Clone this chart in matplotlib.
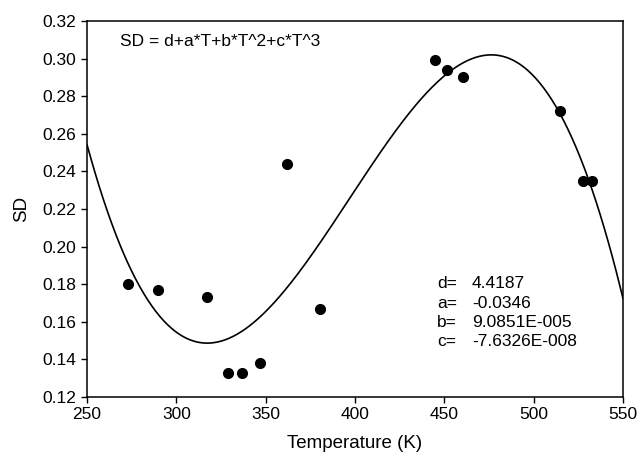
import numpy as np
import matplotlib
matplotlib.use('Agg')
import matplotlib.pyplot as plt

plt.rcParams['font.family'] = ['Liberation Sans', 'DejaVu Sans']

temp = [273, 290, 317, 329, 336.5, 347, 362, 380.5, 445, 451.5, 460.5, 515, 527.5, 532.5]
sd = [0.180, 0.177, 0.173, 0.133, 0.133, 0.138, 0.244, 0.167, 0.299, 0.294, 0.290, 0.272, 0.235, 0.235]

# fitted cubic coefficients shown on the chart
coef_names = ['d', 'a', 'b', 'c']
coef_vals = [4.4187, -0.0346, 9.0851e-5, -7.6326e-8]
coef_text = ['4.4187', '-0.0346', '9.0851E-005', '-7.6326E-008']

fig = plt.figure(figsize=(6.39, 4.61), dpi=100)
ax = fig.add_axes([87 / 639, 1 - 397 / 461, 536 / 639, 376 / 461])

t = np.linspace(250, 550, 400)
d, a, b, c = coef_vals
ax.plot(t, d + a * t + b * t**2 + c * t**3, color='black', lw=1.2)
ax.plot(temp, sd, 'o', color='black', ms=7)

ax.set_xlim(250, 550)
ax.set_ylim(0.12, 0.32)
ax.set_xticks(range(250, 551, 50))
ax.set_yticks(np.arange(0.12, 0.321, 0.02))
ax.set_yticklabels(['%.2f' % v for v in np.arange(0.12, 0.321, 0.02)])
ax.tick_params(direction='out', length=4.5, labelsize=12.5, width=1, pad=3)
for s in ax.spines.values():
    s.set_linewidth(1.1)

ax.set_xlabel('Temperature (K)', fontsize=13.5, labelpad=9)
ax.set_ylabel('SD', fontsize=13.5, labelpad=9)

ax.text(268.5, 0.309, 'SD = d+a*T+b*T^2+c*T^3', fontsize=12.5, va='center')
for i, (n, v) in enumerate(zip(coef_names, coef_text)):
    y = 0.1802 - i * 0.0103
    ax.text(446, y, n + '=', fontsize=12.5, va='center')
    ax.text(465.5, y, v, fontsize=12.5, va='center')

fig.savefig('out.png', dpi=100)
